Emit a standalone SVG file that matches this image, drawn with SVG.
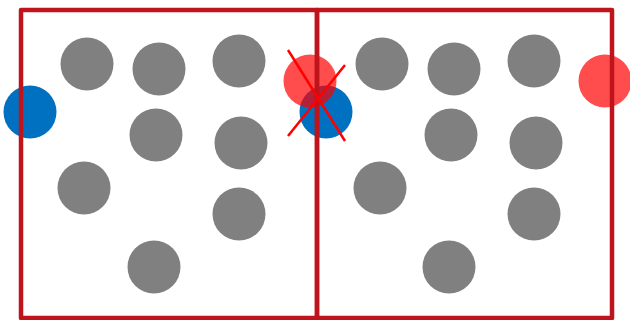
<svg xmlns="http://www.w3.org/2000/svg" width="630" height="320" viewBox="0 0 630 320">
<style>
.g{fill:#808080}
.b{fill:#0070c0}
.r{fill:#ff0000;fill-opacity:0.7}
.box{fill:none;stroke:#c0141c;stroke-width:4.5;stroke-linejoin:round}
.x{stroke:#ff0000;stroke-width:2.5}
</style>
<rect width="630" height="320" fill="#fff"/>
<g id="left-nodes">
<circle class="g" cx="87" cy="64" r="26.5"/>
<circle class="g" cx="159" cy="69" r="26.5"/>
<circle class="g" cx="239" cy="61" r="26.5"/>
<circle class="g" cx="156" cy="135" r="26.5"/>
<circle class="g" cx="241" cy="143" r="26.5"/>
<circle class="g" cx="84" cy="188" r="26.5"/>
<circle class="g" cx="239" cy="214" r="26.5"/>
<circle class="g" cx="154" cy="267" r="26.5"/>
<circle id="blue1" class="b" cx="30" cy="112" r="26.5"/>
</g>
<g id="right-nodes">
<circle class="g" cx="382" cy="64" r="26.5"/>
<circle class="g" cx="454" cy="69" r="26.5"/>
<circle class="g" cx="534" cy="61" r="26.5"/>
<circle class="g" cx="451" cy="135" r="26.5"/>
<circle class="g" cx="536" cy="143" r="26.5"/>
<circle class="g" cx="380" cy="188" r="26.5"/>
<circle class="g" cx="534" cy="214" r="26.5"/>
<circle class="g" cx="449" cy="267" r="26.5"/>
<circle id="blue2" class="b" cx="326" cy="112" r="26.5"/>
</g>
<g id="red-nodes">
<circle class="r" cx="310" cy="81" r="26.5"/>
<circle class="r" cx="605" cy="81" r="26.5"/>
</g>
<g id="boxes">
<rect class="box" x="21" y="10" width="296" height="308"/>
<rect class="box" x="317" y="10" width="295" height="308"/>
</g>
<g id="cross">
<line class="x" x1="288" y1="50" x2="345" y2="141"/>
<line class="x" x1="345" y1="65" x2="288" y2="136"/>
</g>
</svg>
